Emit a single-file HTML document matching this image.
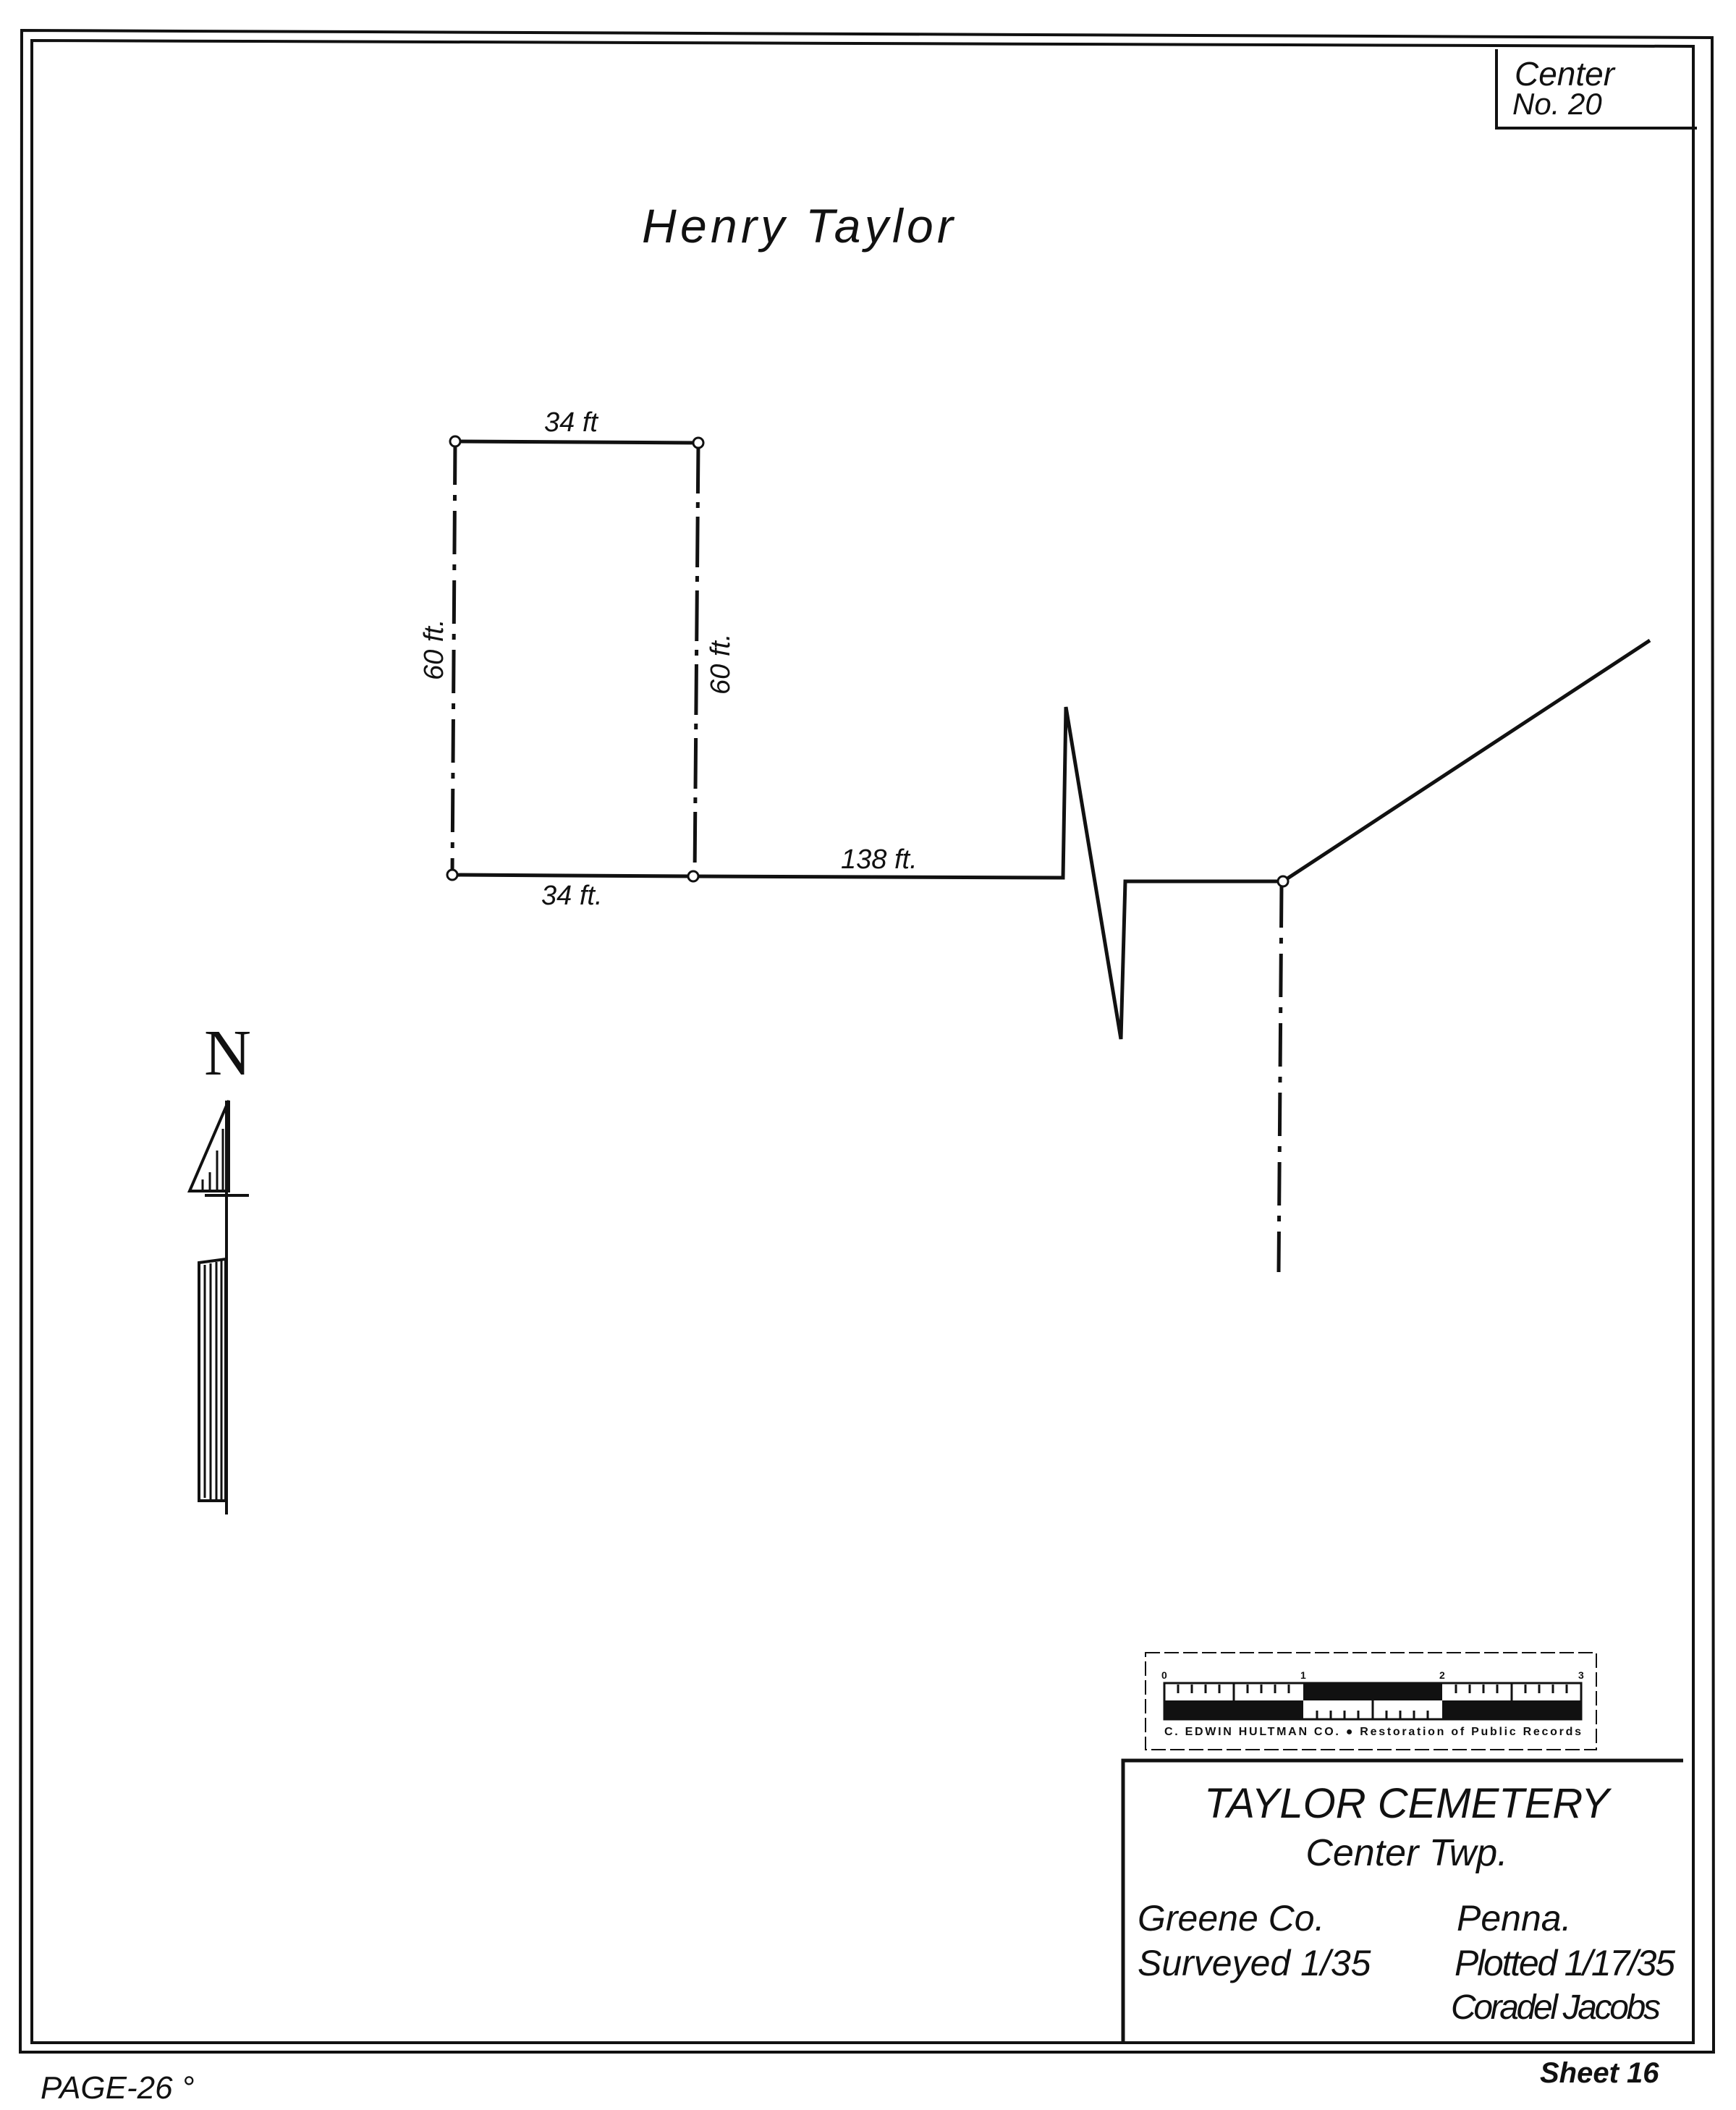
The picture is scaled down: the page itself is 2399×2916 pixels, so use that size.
<!DOCTYPE html>
<html><head><meta charset="utf-8"><style>
html,body{margin:0;padding:0;background:#fff}
svg{display:block}
text{font-family:"Liberation Sans",sans-serif;fill:#111;font-style:italic}
</style></head><body>
<svg width="2399" height="2916" viewBox="0 0 2399 2916" xmlns="http://www.w3.org/2000/svg">
<rect width="2399" height="2916" fill="#fff"/>
<g fill="none" stroke="#111">
<path d="M30 42 L2366 52 L2368 2836 L28 2836 Z" stroke-width="4"/>
<path d="M44 56 L2340 64 L2340 2823 L44 2823 Z" stroke-width="4"/>
<path d="M2068 68 L2068 177 L2345 177" stroke-width="4"/>
<path d="M629 610 L965 612" stroke-width="5"/>
<path d="M629 610 L625 1209" stroke-width="5" stroke-dasharray="60 14 8 14"/>
<path d="M965 612 L960 1211" stroke-width="5" stroke-dasharray="70 12 8 12"/>
<path d="M625 1209 L958 1211" stroke-width="5"/>
<path d="M958 1211 L1469 1213 L1473 977 L1549 1436 L1555 1218 L1773 1218 L2280 885" stroke-width="5"/>
<path d="M1771 1222 L1767 1758" stroke-width="5" stroke-dasharray="60 14 8 14"/>
<circle cx="629" cy="610" r="7" fill="#fff" stroke-width="3"/>
<circle cx="965" cy="612" r="7" fill="#fff" stroke-width="3"/>
<circle cx="625" cy="1209" r="7" fill="#fff" stroke-width="3"/>
<circle cx="958" cy="1211" r="7" fill="#fff" stroke-width="3"/>
<circle cx="1773" cy="1218" r="7" fill="#fff" stroke-width="3"/>
<path d="M313 1521 L313 2093" stroke-width="4"/>
<path d="M316 1521 L262 1646 L316 1646 Z" stroke-width="4"/>
<path d="M283 1652 L344 1652" stroke-width="4"/>
<path d="M275 1745 L312 1740 L312 2074 L275 2074 Z" stroke-width="4"/>
<path d="M283 1748 V2070 M291 1746 V2072 M299 1744 V2072 M306 1742 V2072 M290 1620 V1644 M300 1590 V1644 M308 1560 V1644 M280 1630 V1644" stroke-width="3"/>
<rect x="1583" y="2284" width="623" height="134" stroke-width="2" stroke-dasharray="20 6"/>
<rect x="1609" y="2326" width="576" height="50" stroke-width="3"/>
<path d="M1552 2823 L1552 2433 L2326 2433" stroke-width="5"/>
</g>
<g fill="#111">
<rect x="1609" y="2350" width="192" height="26"/>
<rect x="1801" y="2326" width="192" height="24"/>
<rect x="1993" y="2350" width="192" height="26"/>
</g>
<g stroke="#111" stroke-width="3">
<path d="M1705 2326V2350M1897 2350V2376M2089 2326V2350"/>
<path d="M1628 2328V2340M1647 2328V2340M1666 2328V2340M1685 2328V2340M1724 2328V2340M1743 2328V2340M1762 2328V2340M1781 2328V2340M2012 2328V2340M2031 2328V2340M2050 2328V2340M2069 2328V2340M2108 2328V2340M2127 2328V2340M2146 2328V2340M2165 2328V2340M1820 2364V2376M1839 2364V2376M1858 2364V2376M1877 2364V2376M1916 2364V2376M1935 2364V2376M1954 2364V2376M1973 2364V2376"/>
</g>
<g font-size="14">
<text x="1605" y="2320" style="font-style:normal;font-weight:bold">0</text>
<text x="1797" y="2320" style="font-style:normal;font-weight:bold">1</text>
<text x="1989" y="2320" style="font-style:normal;font-weight:bold">2</text>
<text x="2181" y="2320" style="font-style:normal;font-weight:bold">3</text>
<text x="1609" y="2398" font-size="16" style="font-style:normal;font-weight:bold" textLength="576">C. EDWIN HULTMAN CO. ● Restoration of Public Records</text>
</g>
<text x="2093" y="118" font-size="46">Center</text>
<text x="2090" y="158" font-size="42">No. 20</text>
<text x="887" y="335" font-size="66" textLength="430">Henry Taylor</text>
<text x="752" y="596" font-size="38">34 ft</text>
<text x="748" y="1250" font-size="38">34 ft.</text>
<text x="1162" y="1200" font-size="38">138 ft.</text>
<text transform="translate(612,940) rotate(-90)" font-size="38">60 ft.</text>
<text transform="translate(1008,960) rotate(-90)" font-size="38">60 ft.</text>
<text x="282" y="1485" font-size="90" style="font-style:normal;font-family:'Liberation Serif',serif">N</text>
<text x="1944" y="2512" font-size="58" text-anchor="middle">TAYLOR CEMETERY</text>
<text x="1944" y="2578" font-size="52" text-anchor="middle">Center Twp.</text>
<text x="1572" y="2668" font-size="50">Greene Co.</text>
<text x="1572" y="2730" font-size="50">Surveyed 1/35</text>
<text x="2013" y="2668" font-size="50">Penna.</text>
<text x="2010" y="2730" font-size="50" textLength="305">Plotted 1/17/35</text>
<text x="2005" y="2790" font-size="48" textLength="290">Coradel Jacobs</text>
<text x="56" y="2900" font-size="44">PAGE-26 °</text>
<text x="2128" y="2878" font-size="40" font-weight="bold">Sheet 16</text>
</svg>
</body></html>
